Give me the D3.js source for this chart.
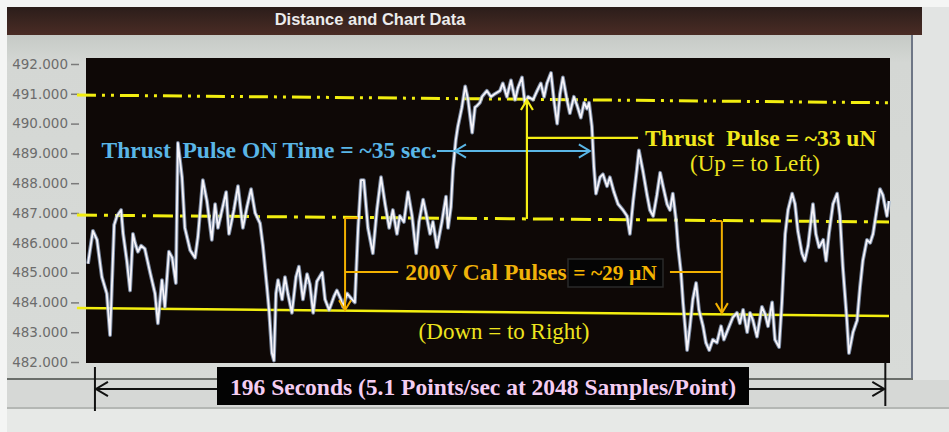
<!DOCTYPE html>
<html><head><meta charset="utf-8">
<script src="https://cdn.jsdelivr.net/npm/d3@7"></script>
<style>body{margin:0;background:#f3f4f3;} svg{display:block} text{white-space:pre}</style>
</head><body><div id="chart"></div>
<script>
// ---- data (time in seconds, distance reading) ----
const seconds = [0,1.2,2.2,3.4,4.6,5.4,6.4,7.1,8.1,8.6,9.5,10.3,11.0,11.5,12.2,13.0,13.9,15.2,16.4,17.1,18.1,18.8,19.8,20.6,21.5,22.0,23.0,23.7,25.0,26.2,26.9,28.1,29.1,30.3,31.1,31.8,32.8,33.8,34.5,35.7,36.7,37.9,38.9,39.9,40.9,42.1,42.8,43.8,44.3,45.0,45.5,46.0,46.5,47.5,48.2,48.9,49.9,50.9,51.6,52.6,53.6,54.3,55.1,56.0,57.3,58.0,59.0,60.2,60.9,61.9,62.4,63.4,64.6,65.3,66.1,66.8,67.5,68.5,69.7,70.7,71.7,72.7,73.7,74.6,75.6,76.3,77.3,78.3,79.3,80.3,81.0,82.0,82.7,83.7,84.4,85.4,86.6,87.6,88.1,88.8,89.3,90.0,90.5,91.5,92.3,93.0,94.0,94.7,95.2,95.9,96.4,97.6,98.6,99.6,100.8,101.5,102.5,103.5,104.5,105.2,106.2,106.9,107.7,108.9,109.9,110.8,111.6,112.3,113.3,114.0,114.8,115.5,116.2,117.2,117.9,118.9,119.7,120.6,121.4,122.1,122.6,123.3,123.8,124.3,125.3,126.0,127.0,127.7,128.7,129.7,130.9,131.9,132.6,133.4,134.3,134.8,135.8,136.8,137.5,138.3,139.2,140.0,140.7,141.7,142.4,143.1,143.9,144.4,145.1,145.6,146.1,146.6,147.3,148.0,148.8,149.5,150.5,151.2,152.0,152.9,153.9,154.9,155.6,156.6,157.8,158.8,159.5,160.3,161.3,162.0,162.7,163.7,164.9,165.7,166.4,167.4,168.1,169.1,169.8,170.6,171.3,172.3,173.0,173.7,174.7,175.4,176.2,177.4,178.1,178.9,179.9,180.6,181.3,182.3,183.3,184.0,184.7,185.7,186.2,187.2,188.2,188.9,189.6,190.6,191.4,192.1,193.1,193.8,194.5,195.5,196.0];
const distance = [485.3,486.4,486.1,484.85,484.3,482.9,486.6,486.9,487.1,486.3,485.4,484.4,486.3,486.0,485.7,485.9,485.8,485.0,484.3,483.3,484.75,483.85,485.7,485.5,484.65,489.35,488.2,486.5,485.75,485.5,486.2,488.1,487.4,486.1,487.3,486.5,487.1,487.7,486.3,487.1,487.9,486.5,487.2,487.8,487.0,486.65,485.9,484.5,483.75,482.3,482.05,484.3,484.75,484.1,484.85,484.3,483.65,484.85,485.2,484.1,484.95,484.6,483.65,484.7,485.0,484.1,483.75,484.2,484.4,484.1,483.85,484.3,484.1,484.0,486.5,488.1,488.1,486.5,485.65,487.1,488.2,487.3,486.5,487.1,486.3,486.9,486.7,487.7,486.9,485.65,486.7,487.45,487.0,486.3,486.7,485.85,486.7,487.55,486.5,487.2,488.45,489.45,489.9,490.55,491.25,490.8,489.7,490.55,490.6,490.7,490.9,491.1,490.9,491.0,491.1,491.35,490.9,491.45,490.8,491.2,491.55,490.7,490.9,490.8,491.1,491.35,490.9,491.35,491.7,490.8,490.0,491.0,491.55,490.8,490.35,490.9,490.6,490.2,490.7,490.5,490.7,489.9,488.55,487.65,488.2,488.3,487.9,488.2,487.7,487.3,487.1,486.9,486.3,487.4,488.45,489.1,488.4,487.6,487.1,486.9,487.6,488.35,487.9,487.3,487.1,487.65,486.75,485.85,485.0,484.0,483.2,482.4,483.2,484.1,484.65,483.75,483.2,482.65,482.4,482.75,482.65,483.2,482.75,483.1,483.5,483.65,483.3,483.75,483.0,483.65,483.4,482.85,483.85,483.6,483.2,484.0,482.75,482.5,484.0,486.3,487.1,487.65,487.3,486.4,485.65,485.4,485.9,487.3,486.3,485.85,486.1,485.4,486.3,487.3,487.65,486.9,485.2,483.4,482.3,483.0,483.4,484.5,485.4,486.1,486.0,486.3,487.2,487.8,487.6,486.9,487.4];
const yTicks = [482,483,484,485,486,487,488,489,490,491,492];
const chartTitle = "Distance and Chart Data";

// ---- annotation anchors (seconds / distance units) ----
const refSpan = [-2.7, 196];          // reference lines run across the plot
const upperRef = [490.96, 490.70];    // dash-dot-dot (pulse level)
const baseRef = [486.93, 486.70];     // dash-dot (baseline)
const lowRef = [483.81, 483.54];      // solid (cal pulse level)
const onTimeY = 489.08;
const onTime = [85.4, 89.8, 122.8];   // line start, left tip, right tip
const thrustX = 107.4, thrustSpan = [486.8, 490.79], thrustArm = [489.52, 134.6];
const calLeft = {t: 62.9, top: 486.83, tip: 483.74, cap: 66.1};
const calRight = {t: 155.1, top: 486.73, tip: 483.64, cap: 152.2};
const calArmY = 485.02, calArmL = 75.9, calArmR = 142.4;
const durationSpan = [1.7, 195.1];

const W = 949, H = 432;
const svg = d3.select("#chart").append("svg").attr("width", W).attr("height", H);
const defs = svg.append("defs");
const tg = defs.append("linearGradient").attr("id","tbar").attr("x1",0).attr("y1",0).attr("x2",0).attr("y2",1);
tg.append("stop").attr("offset","0%").attr("stop-color","#2b1d1a");
tg.append("stop").attr("offset","100%").attr("stop-color","#4a2c25");
const pg = defs.append("linearGradient").attr("id","panel").attr("x1",0).attr("y1",0).attr("x2",0).attr("y2",1);
pg.append("stop").attr("offset","0%").attr("stop-color","#c6cac6");
pg.append("stop").attr("offset","8%").attr("stop-color","#d4d7d4");
pg.append("stop").attr("offset","100%").attr("stop-color","#d8dbd8");

// background frame
svg.append("rect").attr("x",0).attr("y",0).attr("width",W).attr("height",H).attr("fill","#f4f5f4");
svg.append("rect").attr("x",7).attr("y",35).attr("width",906).attr("height",345).attr("fill","url(#panel)");
svg.append("rect").attr("x",913).attr("y",7).attr("width",36).attr("height",405).attr("fill","#e2e4e3");
svg.append("line").attr("x1",912).attr("x2",912).attr("y1",35).attr("y2",380).attr("stroke","#6e7686").attr("stroke-width",2);
svg.append("rect").attr("x",7).attr("y",378).attr("width",906).attr("height",2).attr("fill","#6a6e6a");
svg.append("rect").attr("x",7).attr("y",380).attr("width",942).attr("height",28).attr("fill","#d6d8d6");
svg.append("rect").attr("x",7).attr("y",407).attr("width",942).attr("height",2).attr("fill","#b4b7b4");
svg.append("rect").attr("x",7).attr("y",409).attr("width",942).attr("height",23).attr("fill","#e7e9e7");
svg.append("rect").attr("x",7).attr("y",7).attr("width",915).attr("height",28).attr("fill","url(#tbar)");
svg.append("text").attr("x",370).attr("y",25).attr("text-anchor","middle")
  .attr("font-family","Liberation Sans, Arial, sans-serif").attr("font-weight","bold").attr("font-size",16.5)
  .attr("fill","#ececec").text(chartTitle);

// scales
const x = d3.scaleLinear().domain([0,196]).range([88,889]);
const y = d3.scaleLinear().domain([482,492]).range([362,64]);

// plot area
svg.append("rect").attr("x",86).attr("y",58).attr("width",804).attr("height",305).attr("fill","#0e0806");

// axis
const ax = svg.append("g").attr("transform","translate(79,0)")
  .call(d3.axisLeft(y).tickValues(yTicks).tickFormat(d3.format(".3f")).tickSizeInner(8).tickSizeOuter(0).tickPadding(3));
ax.select(".domain").remove();
ax.selectAll(".tick line").attr("stroke","#7a7a7a").attr("stroke-width",1.5);
ax.selectAll(".tick text").attr("fill","#6c6c6c").attr("font-family","DejaVu Sans, sans-serif").attr("font-size",13.5);

// reference lines
function refLine(vals, dash, w){
  svg.append("line").attr("x1",x(refSpan[0])).attr("x2",x(refSpan[1]))
    .attr("y1",y(vals[0])).attr("y2",y(vals[1]))
    .attr("stroke","#f2ee10").attr("stroke-width",w).attr("stroke-dasharray",dash);
}
refLine(upperRef, "19,6,3,6,3,6", 3);
refLine(baseRef, "20,7,4,7", 3);
refLine(lowRef, null, 2.5);

// data line
const pts = seconds.map((t,i)=>[t, distance[i]]);
const line = d3.line().x(d=>x(d[0])).y(d=>y(d[1]));
svg.append("path").datum(pts).attr("d",line).attr("fill","none")
  .attr("stroke","#9cb2d2").attr("stroke-width",3.8).attr("stroke-opacity",0.75).attr("stroke-linejoin","round");
svg.append("path").datum(pts).attr("d",line).attr("fill","none")
  .attr("stroke","#f6f4fa").attr("stroke-width",1.8).attr("stroke-linejoin","round");

// helpers
function chevron(px, py, dir, color, s, w){
  const d = {left:[[s,-s*0.6],[0,0],[s,s*0.6]], right:[[-s,-s*0.6],[0,0],[-s,s*0.6]],
             up:[[-s*0.6,s],[0,0],[s*0.6,s]], down:[[-s*0.6,-s],[0,0],[s*0.6,-s]]}[dir];
  svg.append("path").attr("d", d3.line()(d.map(p=>[px+p[0], py+p[1]])))
    .attr("fill","none").attr("stroke",color).attr("stroke-width",w);
}
function seg(x1,y1,x2,y2,color,w){
  svg.append("line").attr("x1",x1).attr("y1",y1).attr("x2",x2).attr("y2",y2).attr("stroke",color).attr("stroke-width",w);
}
const serif = "Liberation Serif, Times New Roman, serif";
function label(tx, ty, str, color, size, bold, anchor){
  svg.append("text").attr("x",tx).attr("y",ty).attr("text-anchor",anchor||"start")
    .attr("xml:space","preserve")
    .attr("font-family",serif).attr("font-size",size).attr("font-weight",bold?"bold":"normal")
    .attr("fill",color).text(str);
}

// blue ON-time annotation
const blue = "#5ab6e6";
seg(x(onTime[0]), y(onTimeY), x(onTime[2]), y(onTimeY), blue, 2);
chevron(x(onTime[1]), y(onTimeY), "left", blue, 11, 2);
chevron(x(onTime[2]), y(onTimeY), "right", blue, 11, 2);
label(x(onTime[0]), y(onTimeY)+7, "Thrust  Pulse ON Time = ~35 sec.", blue, 23.5, true, "end");

// yellow thrust annotation
const yel = "#f4ee14";
seg(x(thrustX), y(thrustSpan[0]), x(thrustX), y(thrustSpan[1]), yel, 2.2);
chevron(x(thrustX), y(thrustSpan[1]), "up", yel, 10, 2.2);
seg(x(thrustX), y(thrustArm[0]), x(thrustArm[1]), y(thrustArm[0]), yel, 2.2);
label(x(thrustArm[1])+7, y(thrustArm[0])+8, "Thrust  Pulse = ~33 uN", "#f2e81c", 23.5, true);
label(755, 171, "(Up = to Left)", "#eee41e", 23, false, "middle");

// orange cal annotation
const org = "#f2b000";
[calLeft, calRight].forEach(c=>{
  seg(x(c.t), y(c.top), x(c.t), y(c.tip), org, 2);
  seg(x(c.t), y(c.top), x(c.cap), y(c.top), org, 2);
  chevron(x(c.t), y(c.tip), "down", org, 10, 2);
});
seg(x(calLeft.t), y(calArmY), x(calArmL), y(calArmY), org, 2);
seg(x(calArmR), y(calArmY), x(calRight.t), y(calArmY), org, 2);
label(x(calArmL)+7, y(calArmY)+8, "200V Cal Pulses", "#f0b20a", 23.5, true);
svg.append("rect").attr("x",568).attr("y",259).attr("width",95).attr("height",28)
  .attr("fill","#050505").attr("stroke","#2a2a2a").attr("stroke-width",1.5);
label(615, 280, "= ~29 \u03bcN", "#f4b400", 21.5, true, "middle");
label(504, 339, "(Down = to Right)", "#eee41e", 23, false, "middle");

// duration annotation
const durY = 389;
seg(x(durationSpan[0]), 367, x(durationSpan[0]), 411, "#111", 2);
seg(x(durationSpan[1]), 362, x(durationSpan[1]), 406, "#111", 2);
seg(x(durationSpan[0]), durY, x(durationSpan[1]), durY, "#111", 2);
chevron(x(durationSpan[0])+1, durY, "left", "#111", 12, 2);
chevron(x(durationSpan[1])-1, durY, "right", "#111", 12, 2);
svg.append("rect").attr("x",217).attr("y",367).attr("width",532).attr("height",38).attr("fill","#030303");
label(483, 395, "196 Seconds (5.1 Points/sec at 2048 Samples/Point)", "#f4cdf2", 23.5, true, "middle");
</script></body></html>
